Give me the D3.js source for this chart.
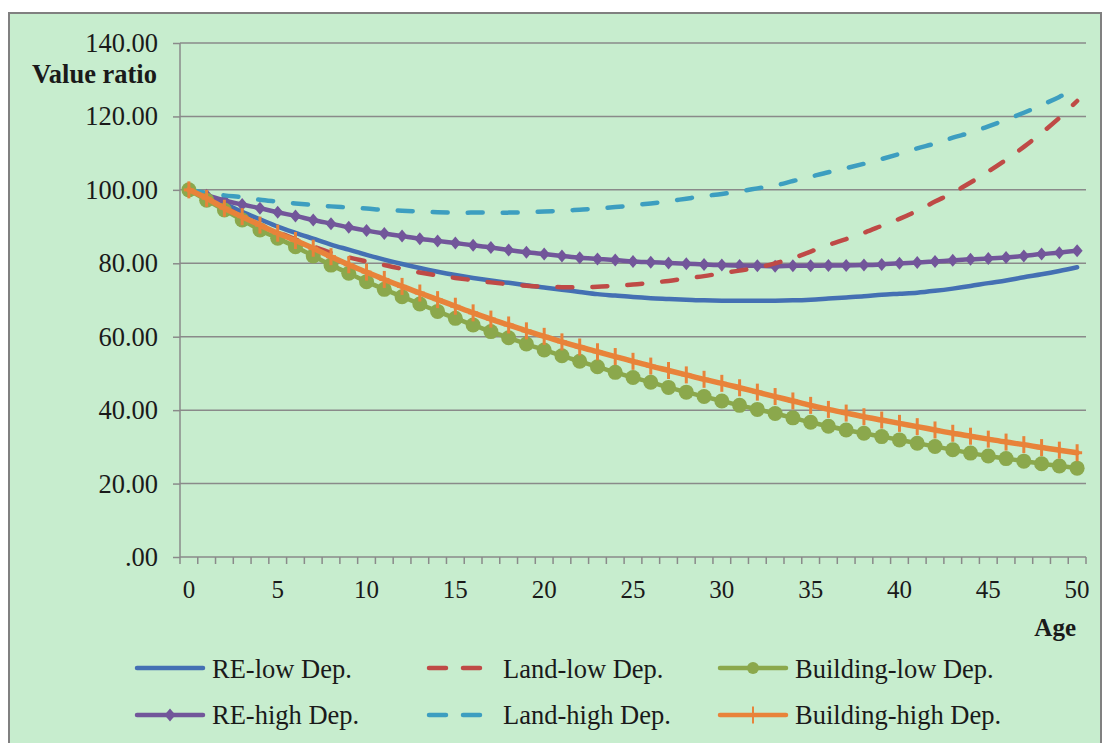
<!DOCTYPE html>
<html><head><meta charset="utf-8">
<script src="https://cdn.jsdelivr.net/npm/d3@7"></script>
<style>
html,body{margin:0;padding:0;background:#fff;}
svg text{font-family:"Liberation Serif","Times New Roman",serif;fill:#1a1a1a;}
</style></head>
<body><svg id="chart" width="1106" height="743"></svg>
<script>
const ages = d3.range(0, 51);
const xTickLabels = ["0","5","10","15","20","25","30","35","40","45","50"];
const yTicks = [0,20,40,60,80,100,120,140];
const yTickLabels = [".00","20.00","40.00","60.00","80.00","100.00","120.00","140.00"];
const seriesNames = ["RE-low Dep.","Land-low Dep.","Building-low Dep.","RE-high Dep.","Land-high Dep.","Building-high Dep."];

const reLow = [100,98.0,96.2,94.0,92.0,90.0,88.3,86.7,85.1,83.7,82.3,81.0,79.8,78.7,77.7,76.8,76.0,75.3,74.7,74.0,73.4,72.8,72.2,71.6,71.2,70.8,70.5,70.3,70.1,69.9,69.8,69.8,69.8,69.8,69.9,70.1,70.4,70.7,71.0,71.4,71.7,72.0,72.5,73.1,73.8,74.6,75.3,76.2,77.0,77.9,78.9];
const landLow = [100,97.7,95.2,92.8,90.5,88.5,86.5,84.6,82.9,81.6,80.5,79.5,78.5,77.5,76.7,76.0,75.4,74.8,74.3,73.9,73.6,73.5,73.5,73.6,73.9,74.2,74.7,75.2,75.9,76.5,77.3,78.0,78.8,80.0,81.4,83.2,85.0,86.6,88.3,90.2,92.1,94.3,96.8,99.2,102.0,105.0,108.2,111.7,115.5,119.6,124.2];
const buildingLow = [100,97.2,94.5,91.8,89.1,86.8,84.5,82.0,79.5,77.3,75.0,72.9,70.9,68.9,66.9,65.0,63.2,61.4,59.7,58.0,56.4,54.8,53.3,51.8,50.3,48.9,47.6,46.2,44.9,43.7,42.5,41.3,40.2,39.1,37.9,36.7,35.6,34.6,33.7,32.8,31.9,31.0,30.1,29.2,28.3,27.5,26.8,26.1,25.4,24.8,24.2];
const reHigh = [100,98.5,97.1,96.0,95.0,93.9,92.9,91.8,90.8,89.8,88.9,88.1,87.4,86.7,86.1,85.5,84.9,84.3,83.6,83.0,82.5,82.0,81.5,81.2,80.9,80.5,80.3,80.1,79.9,79.7,79.5,79.4,79.3,79.2,79.3,79.3,79.4,79.4,79.5,79.7,80.0,80.2,80.5,80.8,81.1,81.3,81.6,82.0,82.5,82.9,83.4];
const landHigh = [100,99.2,98.5,98.0,97.3,96.8,96.3,95.9,95.5,95.2,94.9,94.5,94.3,94.1,93.9,93.8,93.8,93.8,93.8,93.9,94.1,94.3,94.6,94.9,95.3,95.8,96.3,96.9,97.6,98.3,98.9,99.6,100.4,101.2,102.4,103.6,104.8,105.9,107.1,108.4,109.8,111.3,112.6,114.2,115.6,117.3,119.1,121.0,123.1,125.3,127.9];
const buildingHigh = [100,97.7,95.0,92.7,90.4,88.2,86.2,84.1,81.8,79.6,77.6,75.6,73.7,71.9,70.1,68.3,66.5,64.8,63.2,61.6,60.1,58.6,57.2,55.9,54.6,53.3,52.0,50.8,49.6,48.4,47.3,46.1,44.9,43.7,42.5,41.3,40.2,39.2,38.2,37.3,36.4,35.5,34.6,33.7,32.9,32.1,31.3,30.6,29.8,29.1,28.4];

const colors = {blue:"#4470b3", red:"#bf4a46", green:"#8ba84c", purple:"#72569a", teal:"#3d9ec0", orange:"#e8833a"};

const series = [
  {name:seriesNames[0], values:reLow, color:colors.blue, dash:null, marker:null},
  {name:seriesNames[3], values:reHigh, color:colors.purple, dash:null, marker:"diamond"},
  {name:seriesNames[1], values:landLow, color:colors.red, dash:"15,20", marker:null},
  {name:seriesNames[4], values:landHigh, color:colors.teal, dash:"15,20", marker:null},
  {name:seriesNames[2], values:buildingLow, color:colors.green, dash:null, marker:"circle"},
  {name:seriesNames[5], values:buildingHigh, color:colors.orange, dash:null, marker:"plus"}
];

const svg = d3.select("#chart");
svg.append("rect").attr("x",9).attr("y",13).attr("width",1092).attr("height",745)
  .attr("fill","#c7edce").attr("stroke","#808080").attr("stroke-width",2);

const x = d3.scaleBand().domain(ages).range([180,1086]).paddingInner(0).paddingOuter(0);
const bw = x.bandwidth();
const cx = a => x(a) + bw/2;
const y = d3.scaleLinear().domain([0,140]).range([557,43]);
const grid = "#8a8a8a";

// gridlines
svg.append("g").selectAll("line").data(yTicks.filter(v=>v>0)).join("line")
  .attr("x1",180).attr("x2",1086).attr("y1",d=>y(d)).attr("y2",d=>y(d))
  .attr("stroke",grid).attr("stroke-width",1.5);

// y axis
const yAxis = d3.axisLeft(y).tickValues(yTicks).tickSize(7).tickFormat("");
const gy = svg.append("g").attr("transform","translate(180,0)").call(yAxis);
gy.selectAll("path,line").attr("stroke",grid).attr("stroke-width",1.5);
gy.select("path").attr("d","M0,43V557");
svg.append("g").selectAll("text").data(yTicks).join("text")
  .attr("x",158).attr("y",d=>y(d)+9).attr("text-anchor","end")
  .attr("font-size",26.5).text((d,i)=>yTickLabels[i]);

// x axis
const bounds = ages.map(a=>x(a)).concat([1086]);
svg.append("line").attr("x1",180).attr("x2",1086).attr("y1",557).attr("y2",557)
  .attr("stroke",grid).attr("stroke-width",1.5);
svg.append("g").selectAll("line").data(bounds).join("line")
  .attr("x1",d=>d).attr("x2",d=>d).attr("y1",557).attr("y2",564)
  .attr("stroke",grid).attr("stroke-width",1.5);
svg.append("g").selectAll("text").data(xTickLabels).join("text")
  .attr("x",d=>cx(+d)).attr("y",598).attr("text-anchor","middle")
  .attr("font-size",25).text(d=>d);

// axis titles
svg.append("text").attr("x",157).attr("y",83).attr("text-anchor","end")
  .attr("font-size",26.5).attr("font-weight","bold").text("Value ratio");
svg.append("text").attr("x",1076).attr("y",636).attr("text-anchor","end")
  .attr("font-size",25).attr("font-weight","bold").text("Age");

// lines
const line = d3.line().x((d,i)=>cx(ages[i])).y(d=>y(d)).curve(d3.curveCatmullRom.alpha(0.5));
const diamond = "M0,-6.5L5.5,0L0,6.5L-5.5,0Z";

function drawMarkers(g, s, pts, legend){
  if(s.marker==="diamond"){
    g.selectAll("path.m").data(pts).join("path").attr("class","m")
      .attr("d",diamond).attr("transform",d=>`translate(${d[0]},${d[1]})`).attr("fill",s.color);
  } else if(s.marker==="circle"){
    g.selectAll("circle").data(pts).join("circle")
      .attr("cx",d=>d[0]).attr("cy",d=>d[1]).attr("r",legend?6:7.5).attr("fill",s.color);
  } else if(s.marker==="plus"){
    g.selectAll("line.v").data(pts).join("line").attr("class","v")
      .attr("x1",d=>d[0]).attr("x2",d=>d[0]).attr("y1",d=>d[1]-8.5).attr("y2",d=>d[1]+8.5)
      .attr("stroke",s.color).attr("stroke-width",legend?2:3);
    g.selectAll("line.h").data(pts).join("line").attr("class","h")
      .attr("x1",d=>d[0]-5).attr("x2",d=>d[0]+5).attr("y1",d=>d[1]).attr("y2",d=>d[1])
      .attr("stroke",s.color).attr("stroke-width",3);
  }
}

series.forEach(s=>{
  const g = svg.append("g");
  g.append("path").attr("d",line(s.values)).attr("fill","none")
    .attr("stroke",s.color).attr("stroke-width",s.marker==="plus"?5.5:4.5)
    .attr("stroke-linecap","round").attr("stroke-linejoin","round")
    .attr("stroke-dasharray",s.dash);
  const pts = s.values.map((v,i)=>[cx(ages[i]),y(v)]);
  drawMarkers(g,s,pts,false);
});

// legend (row-wise order as in the original)
const legendSeries = [series[0],series[2],series[4],series[1],series[3],series[5]];
const colX = [[137,203,212],[429,482,503],[720,786,795]];
const rowY = [[668,678],[715,724]];
legendSeries.forEach((s,k)=>{
  const c = colX[k%3], r = rowY[Math.floor(k/3)];
  const g = svg.append("g");
  g.append("line").attr("x1",c[0]).attr("x2",c[1]).attr("y1",r[0]).attr("y2",r[0])
    .attr("stroke",s.color).attr("stroke-width",4.5).attr("stroke-linecap","round")
    .attr("stroke-dasharray",s.dash?"17,17":null);
  drawMarkers(g,s,[[ (c[0]+c[1])/2, r[0] ]],true);
  g.append("text").attr("x",c[2]).attr("y",r[1]).attr("font-size",26.5).text(s.name);
});
</script></body></html>
